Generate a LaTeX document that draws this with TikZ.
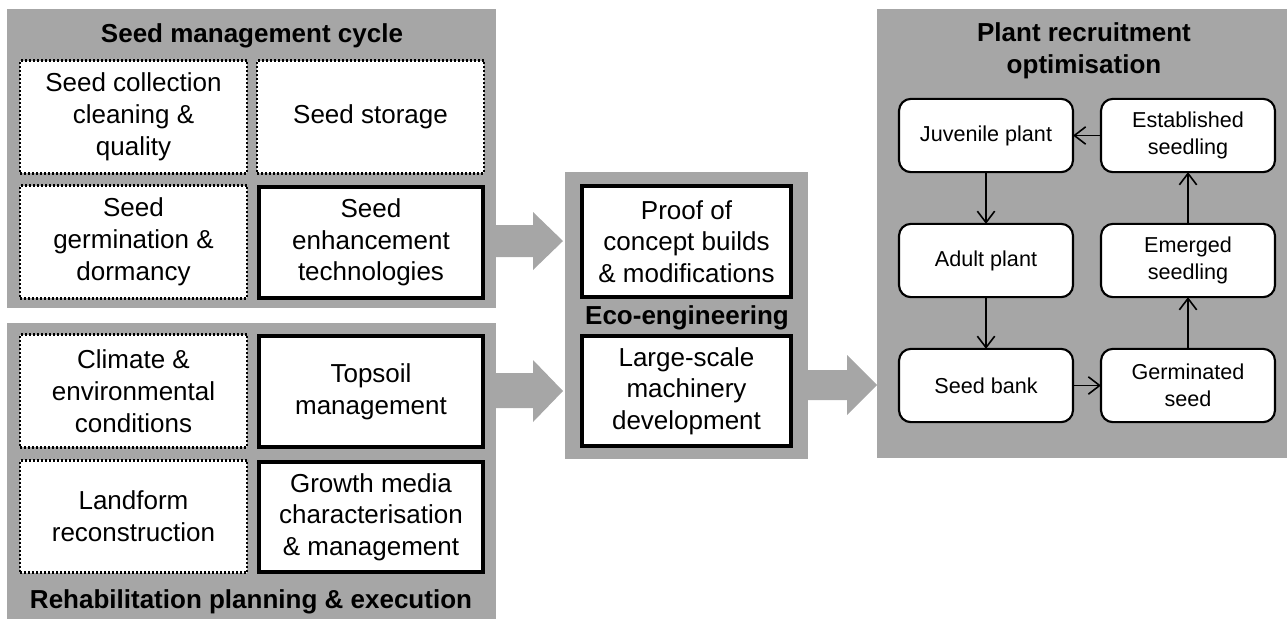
\documentclass[tikz,border=0pt]{standalone}
\usepackage{fontspec}
\setmainfont{Liberation Sans}
\usetikzlibrary{fit,arrows.meta}
\definecolor{panelgray}{RGB}{166,166,166}
\newcommand{\bxfont}{\fontsize{19.5}{23.8}\selectfont}
\newcommand{\smfont}{\fontsize{16.2}{20}\selectfont}
\begin{document}
\begin{tikzpicture}[x=0.75pt,y=-0.75pt,
  panel/.style={fill=panelgray,draw=none,inner sep=0pt,outer sep=0pt},
  ptitle/.style={font=\bxfont\bfseries,align=center,inner sep=0pt},
  dotbox/.style={fill=white,draw=black,line width=2.2pt,dash pattern=on 1.6pt off 1.4pt,
    inner sep=0pt,outer sep=0pt,align=center,font=\bxfont,
    minimum width=170.25pt,minimum height=84.5pt},
  thickbox/.style={fill=white,draw=black,line width=3pt,
    inner sep=0pt,outer sep=0pt,align=center,font=\bxfont,
    minimum width=168pt,minimum height=83pt},
  cyclebox/.style={fill=white,draw=black,line width=1.6pt,rounded corners=9pt,
    inner sep=0pt,outer sep=0pt,align=center,font=\smfont,
    minimum width=130.5pt,minimum height=55pt},
  cyc/.style={line width=1.2pt,-{Straight Barb[length=8.5pt,width=13pt,line width=1.2pt]}},
  bigarrow/.style={fill=panelgray,draw=none}
]
\useasboundingbox (0,0) rectangle (1287,619);

% ---------- Seed management cycle ----------
\node[panel,fit={(7,9)(496,308)}] (smc) {};
\node[ptitle] (smct) at (252,36) {Seed management cycle};
\node[dotbox] (coll) at (133.5,117) {Seed collection\\cleaning \&\\quality};
\node[dotbox] (stor) at (370.5,117) {Seed storage};
\node[dotbox] (germ) at (133.5,242) {Seed\\germination \&\\dormancy};
\node[thickbox] (enh) at (371,242.5) {Seed\\enhancement\\technologies};

% ---------- Rehabilitation planning ----------
\node[panel,fit={(7,323)(496,619)}] (rpe) {};
\node[ptitle] (rpet) at (251,602) {Rehabilitation planning \& execution};
\node[dotbox] (clim) at (133.5,391) {Climate \&\\environmental\\conditions};
\node[thickbox] (tops) at (371,391.5) {Topsoil\\management};
\node[dotbox] (land) at (133.5,516.5) {Landform\\reconstruction};
\node[thickbox] (grow) at (371,517) {Growth media\\characterisation\\\& management};

% ---------- Eco-engineering ----------
\node[panel,fit={(565,172)(808,459)}] (eco) {};
\node[ptitle] (ecot) at (687,318) {Eco-engineering};
\node[thickbox,minimum width=157pt] (proof) at (686.5,241.5) {Proof of\\concept builds\\\& modifications};
\node[thickbox,minimum width=157pt] (large) at (686.5,391) {Large-scale\\machinery\\development};

% ---------- Plant recruitment optimisation ----------
\node[panel,fit={(877,9)(1287,458)}] (pro) {};
\node[ptitle] (prot) at (1084,51) {Plant recruitment\\optimisation};
\node[cyclebox] (juv) at (986,135.5) {Juvenile plant};
\node[cyclebox] (est) at (1188,135.5) {Established\\seedling};
\node[cyclebox] (adult) at (986,260.5) {Adult plant};
\node[cyclebox] (emer) at (1188,260.5) {Emerged\\seedling};
\node[cyclebox] (bank) at (986,385.5) {Seed bank};
\node[cyclebox] (gsd) at (1188,385.5) {Germinated\\seed};

\draw[cyc] (juv) -- (adult);
\draw[cyc] (adult) -- (bank);
\draw[cyc] (bank) -- (gsd);
\draw[cyc] (gsd) -- (emer);
\draw[cyc] (emer) -- (est);
\draw[cyc] (est) -- (juv);

% ---------- big arrows ----------
\fill[bigarrow] (smc.east |- 0,225) -- (533,225) -- (533,212) -- (563,241)
  -- (533,270) -- (533,257) -- (smc.east |- 0,257) -- cycle;
\fill[bigarrow] (rpe.east |- 0,373) -- (533,373) -- (533,360) -- (563,391)
  -- (533,422) -- (533,408) -- (rpe.east |- 0,408) -- cycle;
\fill[bigarrow] (eco.east |- 0,370) -- (847,370) -- (847,355) -- (877,385)
  -- (847,415) -- (847,400) -- (eco.east |- 0,400) -- cycle;
\end{tikzpicture}
\end{document}
